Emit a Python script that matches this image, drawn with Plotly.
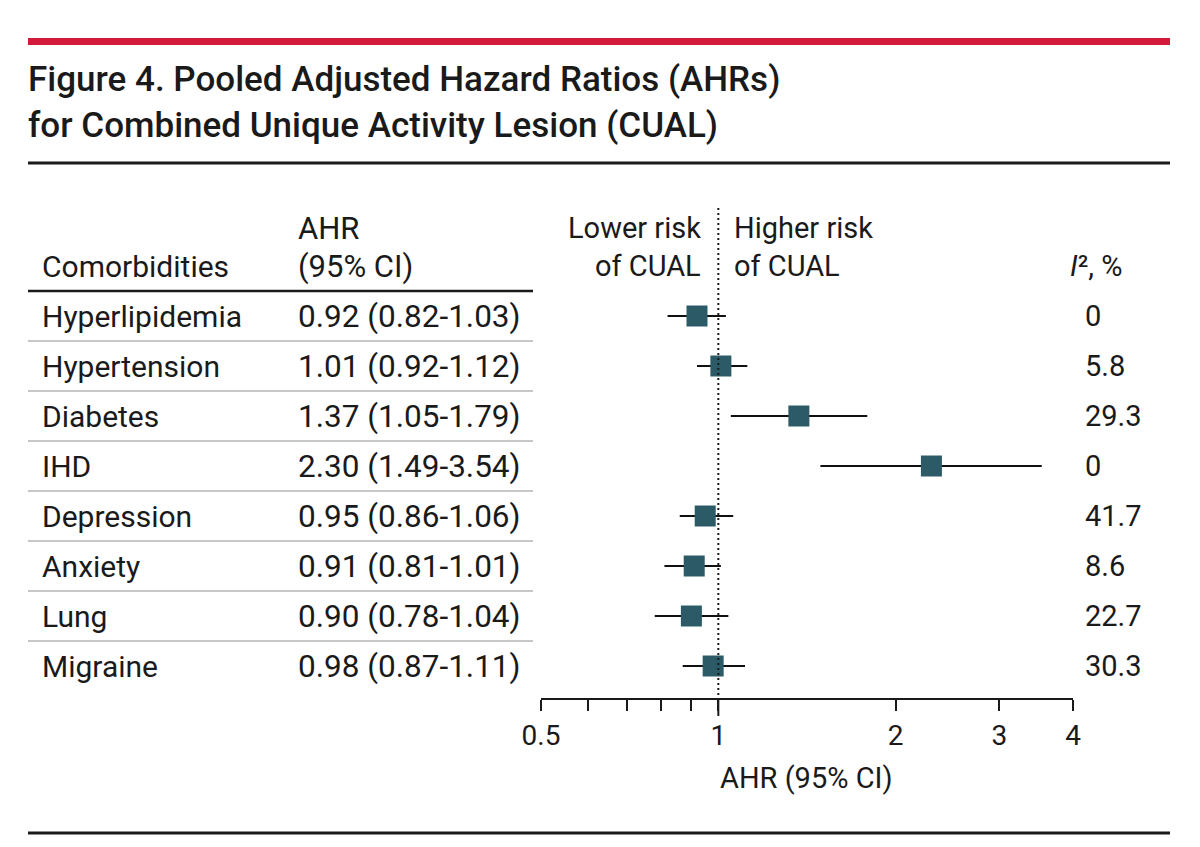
import math
import plotly.graph_objects as go

# page body has an 8px margin; size the figure so it fits the 1200x847 window
OFF = 8
W, H = 1200 - 2 * OFF, 847 - 2 * OFF

# ---------------- data ----------------
comorbidities = ["Hyperlipidemia", "Hypertension", "Diabetes", "IHD",
                 "Depression", "Anxiety", "Lung", "Migraine"]
ahr = [0.92, 1.01, 1.37, 2.30, 0.95, 0.91, 0.90, 0.98]
ci_low = [0.82, 0.92, 1.05, 1.49, 0.86, 0.81, 0.78, 0.87]
ci_high = [1.03, 1.12, 1.79, 3.54, 1.06, 1.01, 1.04, 1.11]
i2 = ["0", "5.8", "29.3", "0", "41.7", "8.6", "22.7", "30.3"]
major_ticks = [0.5, 1, 2, 3, 4]
major_labels = ["0.5", "1", "2", "3", "4"]
minor_ticks = [0.6, 0.7, 0.8, 0.9]

FONT = "Roboto"
TXT = "#1a1a1a"
SQ = "#2d5a67"
FS = 30


def px(x):
    return (x - OFF) / W


def py(y):
    return 1 - (y - OFF) / H


rows = list(range(len(comorbidities)))

fig = go.Figure()

# CI lines
xs, ys = [], []
for r, lo, hi in zip(rows, ci_low, ci_high):
    xs += [lo, hi, None]
    ys += [r, r, None]
fig.add_trace(go.Scatter(x=xs, y=ys, mode="lines",
                         line=dict(color="#111111", width=2),
                         hoverinfo="skip", showlegend=False))
# squares
fig.add_trace(go.Scatter(x=ahr, y=rows, mode="markers",
                         marker=dict(symbol="square", size=21, color=SQ,
                                     line=dict(width=0)),
                         showlegend=False))

shapes = []
shapes.append(dict(type="rect", xref="paper", yref="paper",
                   x0=px(28), x1=px(1170), y0=py(45), y1=py(38),
                   fillcolor="#d31a3b", line=dict(width=0)))
shapes.append(dict(type="line", xref="paper", yref="paper",
                   x0=px(28), x1=px(1170), y0=py(163), y1=py(163),
                   line=dict(color="#1a1a1a", width=3)))
shapes.append(dict(type="line", xref="paper", yref="paper",
                   x0=px(28), x1=px(1170), y0=py(833), y1=py(833),
                   line=dict(color="#1a1a1a", width=3)))
shapes.append(dict(type="line", xref="paper", yref="paper",
                   x0=px(28), x1=px(533), y0=py(291), y1=py(291),
                   line=dict(color="#1a1a1a", width=2.5)))
for r in rows[:-1]:
    shapes.append(dict(type="line", xref="paper", yref="y",
                       x0=px(28), x1=px(533), y0=r + 0.5, y1=r + 0.5,
                       line=dict(color="#b5b5b5", width=1.5)))
shapes.append(dict(type="line", xref="x", yref="paper",
                   x0=1, x1=1, y0=py(208), y1=py(698),
                   line=dict(color="#1a1a1a", width=2, dash="2px,3px")))
shapes.append(dict(type="line", xref="x", yref="paper",
                   x0=1, x1=1, y0=py(698), y1=py(716),
                   line=dict(color="#1a1a1a", width=2)))

ann = []


def add(text, x, y, xanchor="left", size=FS, yref="paper", yv=None, weight=None):
    f = dict(family=FONT, size=size, color=TXT)
    if weight:
        f["weight"] = weight
    ann.append(dict(text=text, x=px(x), xref="paper",
                    y=py(y) if yv is None else yv, yref=yref,
                    xanchor=xanchor, yanchor="middle", showarrow=False,
                    font=f))


add("Figure 4. Pooled Adjusted Hazard Ratios (AHRs)", 26, 79, size=35, weight=500)
add("for Combined Unique Activity Lesion (CUAL)", 26, 126, size=35, weight=500)

add("Comorbidities", 40, 266)
add("AHR", 296, 228, size=31)
add("(95% CI)", 296, 266, size=31)
add("Lower risk", 703, 228, xanchor="right", size=29)
add("of CUAL", 703, 266, xanchor="right", size=29)
add("Higher risk", 732, 228, size=29)
add("of CUAL", 732, 266, size=29)
add("<i>I</i>², %", 1068, 266, size=29)

for r, name, a, lo, hi, v in zip(rows, comorbidities, ahr, ci_low, ci_high, i2):
    add(name, 40, 0, yref="y", yv=r)
    add(f"{a:.2f} ({lo:.2f}-{hi:.2f})", 296, 0, yref="y", yv=r, size=31.5)
    add(v, 1083, 0, yref="y", yv=r, size=29)

add("AHR (95% CI)", 806, 778, xanchor="center", size=29)

fig.update_layout(
    width=W, height=H, autosize=False,
    margin=dict(l=0, r=0, t=0, b=0, pad=0),
    paper_bgcolor="white", plot_bgcolor="white",
    showlegend=False,
    shapes=shapes, annotations=ann,
    xaxis=dict(type="log", range=[math.log10(0.5), math.log10(4)],
               domain=[px(541), px(1073)], automargin=False,
               tickmode="array", tickvals=major_ticks, ticktext=major_labels,
               ticks="outside", ticklen=11, tickwidth=2, tickcolor="#1a1a1a",
               minor=dict(tickmode="array", tickvals=minor_ticks,
                          ticks="outside", ticklen=11, tickwidth=2,
                          tickcolor="#1a1a1a", showgrid=False),
               showline=True, linecolor="#1a1a1a", linewidth=2,
               showgrid=False, zeroline=False,
               tickfont=dict(family=FONT, size=28, color=TXT)),
    yaxis=dict(range=[(698 - 316) / 50, (190 - 316) / 50],
               domain=[py(698), py(190)], automargin=False,
               visible=False, showgrid=False, zeroline=False),
)

fig.write_html("out.html")
